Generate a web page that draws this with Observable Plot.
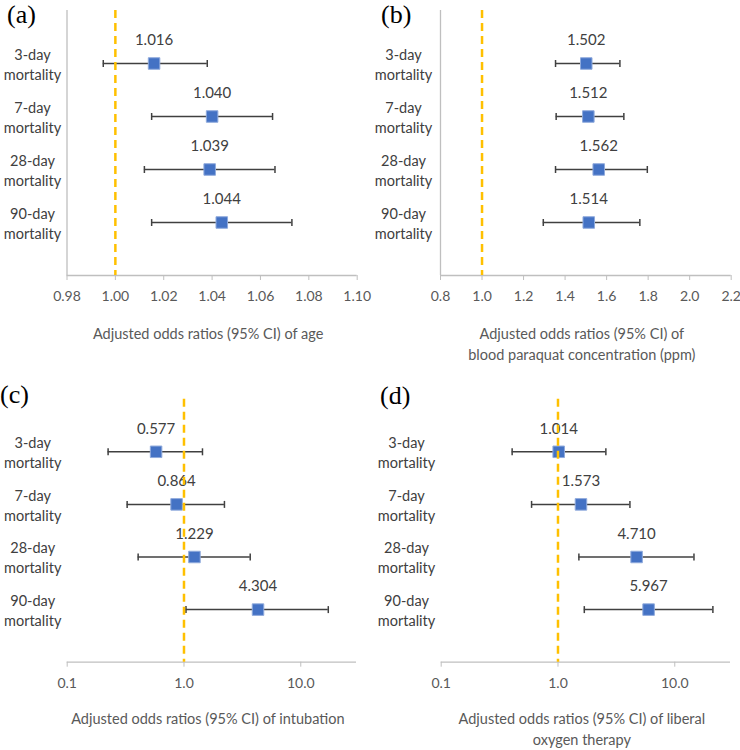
<!DOCTYPE html>
<html>
<head>
<meta charset="utf-8">
<script src="https://cdn.jsdelivr.net/npm/d3@7"></script>
<script src="https://cdn.jsdelivr.net/npm/@observablehq/plot@0.6"></script>
<style>
  body { margin: 0; background: #fff; }
  #wrap { position: relative; width: 740px; height: 750px; background: #fff; }
  .panel { position: absolute; }
  .tag { position: absolute; font-family: "Liberation Serif", "DejaVu Serif", serif; font-size: 26px; color: #000; line-height: 1.12; }
</style>
</head>
<body>
<div id="wrap">
  <div class="panel" id="pa" style="left:0px;top:0px"></div>
  <div class="panel" id="pb" style="left:370px;top:0px"></div>
  <div class="panel" id="pc" style="left:0px;top:370px"></div>
  <div class="panel" id="pd" style="left:370px;top:370px"></div>
  <div class="tag" style="left:7px;top:0px">(a)</div>
  <div class="tag" style="left:381px;top:0px">(b)</div>
  <div class="tag" style="left:0px;top:380px">(c)</div>
  <div class="tag" style="left:380px;top:381px">(d)</div>
</div>
<script>
// ---- data ----
const categories = ["3-day\nmortality", "7-day\nmortality", "28-day\nmortality", "90-day\nmortality"];
const catPos = [4, 3, 2, 1];

const ageOR = [1.016, 1.040, 1.039, 1.044];
const ageLo = [0.995, 1.015, 1.012, 1.015];
const ageHi = [1.038, 1.065, 1.066, 1.073];
const ageTicks = [0.98, 1.00, 1.02, 1.04, 1.06, 1.08, 1.10];

const pqOR = [1.502, 1.512, 1.562, 1.514];
const pqLo = [1.354, 1.357, 1.354, 1.295];
const pqHi = [1.664, 1.683, 1.796, 1.760];
const pqTicks = [0.8, 1.0, 1.2, 1.4, 1.6, 1.8, 2.0, 2.2];

const intOR = [0.577, 0.864, 1.229, 4.304];
const intLo = [0.224, 0.326, 0.405, 1.04];
const intHi = [1.44, 2.22, 3.69, 17.2];

const oxyOR = [1.014, 1.573, 4.710, 5.967];
const oxyLo = [0.405, 0.594, 1.51, 1.68];
const oxyHi = [2.57, 4.13, 14.6, 21.2];
const logTicks = [0.1, 1, 10];
const logDomain = [0.1, 30];

const titleA = "Adjusted odds ratios (95% CI) of age";
const titleB = "Adjusted odds ratios (95% CI) of\nblood paraquat concentration (ppm)";
const titleC = "Adjusted odds ratios (95% CI) of intubation";
const titleD = "Adjusted odds ratios (95% CI) of liberal\noxygen therapy";

// ---- drawing ----
const capSymbol = {
  draw(context, size) {
    const h = Math.sqrt(size / Math.PI);
    context.moveTo(0, -h);
    context.lineTo(0, h);
  }
};

function panel(o) {
  const rows = categories.map((c, i) => ({cat: c, pos: catPos[i], or: o.or[i], lo: o.lo[i], hi: o.hi[i]}));
  const marks = [];
  if (o.leftLine) marks.push(Plot.ruleX([o.domain[0]], {stroke: "#BFBFBF", strokeWidth: 1.3}));
  marks.push(
    Plot.ruleY([0], {stroke: "#BFBFBF", strokeWidth: 1.3}),
    Plot.axisX({ticks: o.ticks, tickFormat: o.fmt, tickSize: 5, tickPadding: 11, stroke: "#BFBFBF", color: "#595959", fontSize: 14, label: null}),
    Plot.axisY({ticks: catPos, tickFormat: d => categories[catPos.indexOf(d)], tickSize: 0, tickPadding: o.catPad, textAnchor: "middle", fontSize: 14.5, color: "#404040", lineHeight: 1.38, label: null}),
    Plot.ruleY(rows, {y: "pos", x1: "lo", x2: "hi", stroke: "#404040", strokeWidth: 1.5}),
    Plot.dot(rows, {x: "lo", y: "pos", symbol: capSymbol, r: 3.5, stroke: "#404040", strokeWidth: 1.5}),
    Plot.dot(rows, {x: "hi", y: "pos", symbol: capSymbol, r: 3.5, stroke: "#404040", strokeWidth: 1.5}),
    Plot.dot(rows, {x: "or", y: "pos", symbol: "square", r: 6.5, fill: "#4472C4", stroke: "#8FAADC", strokeWidth: 1}),
    Plot.text(rows, {x: "or", y: "pos", text: d => d.or.toFixed(3), dy: -23, fontSize: 15, fill: "#404040"}),
    Plot.ruleX([1], {stroke: "#FFC000", strokeWidth: 2.5, strokeDasharray: "8,5"}),
    Plot.text([o.title], {text: d => d, frameAnchor: "bottom", lineAnchor: "top", dy: o.titleDy, dx: -4, fontSize: 14.5, fill: "#595959", lineHeight: 1.45})
  );
  return Plot.plot({
    width: 370,
    height: o.height,
    marginLeft: o.ml, marginRight: o.mr, marginTop: o.mt, marginBottom: o.mb,
    x: {type: o.type, domain: o.domain},
    y: {type: "linear", domain: [0, 5]},
    style: {fontFamily: "Lato, 'Open Sans', sans-serif", background: "transparent", overflow: "visible"},
    marks
  });
}

document.getElementById("pa").append(panel({
  or: ageOR, lo: ageLo, hi: ageHi, type: "linear", domain: [0.98, 1.10], ticks: ageTicks, fmt: d3.format(".2f"),
  title: titleA, height: 370, ml: 66.5, mr: 13.3, mt: 10, mb: 95, leftLine: true, catPad: 34.5, titleDy: 49
}));
document.getElementById("pb").append(panel({
  or: pqOR, lo: pqLo, hi: pqHi, type: "linear", domain: [0.8, 2.2], ticks: pqTicks, fmt: d3.format(".1f"),
  title: titleB, height: 370, ml: 70, mr: 9.3, mt: 10, mb: 95, leftLine: true, catPad: 37, titleDy: 49
}));
document.getElementById("pc").append(panel({
  or: intOR, lo: intLo, hi: intHi, type: "log", domain: logDomain, ticks: logTicks, fmt: d3.format(".1f"),
  title: titleC, height: 380, ml: 66.7, mr: 14, mt: 28.7, mb: 88.3, leftLine: false, catPad: 34.5, titleDy: 47
}));
document.getElementById("pd").append(panel({
  or: oxyOR, lo: oxyLo, hi: oxyHi, type: "log", domain: logDomain, ticks: logTicks, fmt: d3.format(".1f"),
  title: titleD, height: 380, ml: 70.7, mr: 10, mt: 28.7, mb: 88.3, leftLine: false, catPad: 34.7, titleDy: 47
}));
</script>
</body>
</html>
